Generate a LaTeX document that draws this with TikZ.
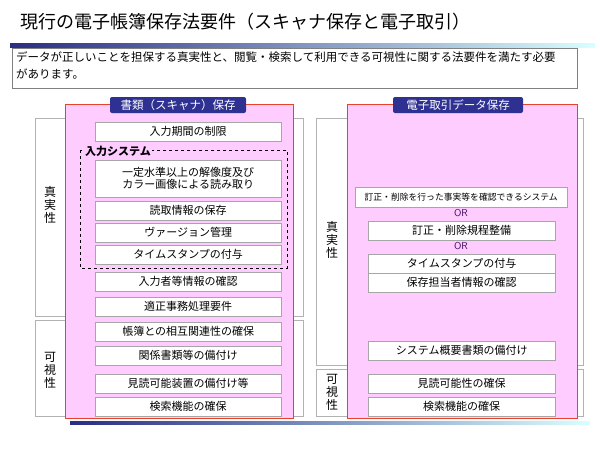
\documentclass[tikz,border=0pt]{standalone}
\usepackage{fontspec}
\setmainfont{Noto Sans CJK JP}
\usetikzlibrary{shadings}
\definecolor{tabblue}{HTML}{2E3192}
\definecolor{pinkfill}{HTML}{FFCCFF}
\definecolor{redb}{HTML}{E8412C}
\definecolor{orc}{HTML}{3A0A5A}
\begin{document}
\begin{tikzpicture}[x=1pt,y=-1pt,
  item/.style={draw=gray!70,fill=white,minimum height=19pt,inner sep=0pt,font=\fontsize{11}{12}\selectfont,anchor=north west},
  group/.style={draw=gray!60,fill=white},
  pinkbox/.style={draw=redb,fill=pinkfill,line width=1pt},
  tab/.style={fill=tabblue,rounded corners=2pt,text=white,font=\fontsize{11.5}{12}\selectfont,inner sep=0pt,minimum height=16pt},
  side/.style={font=\fontsize{12}{13}\selectfont,align=center},
  orlab/.style={text=orc,font=\sffamily\fontsize{10}{11}\selectfont,inner sep=0pt}]
\useasboundingbox (0,0) rectangle (600,450);
\fill[white] (0,0) rectangle (600,450);
\node[anchor=west,font=\fontsize{18}{20}\selectfont,inner sep=0pt] (title) at (20,22) {現行の電子帳簿保存法要件（スキャナ保存と電子取引）};
\shade[left color=tabblue!90!black,right color=cyan!15] (10,43.5) rectangle (595,47);
\node[draw=gray,line width=0.8pt,anchor=north west,minimum width=565pt,minimum height=40pt,inner sep=0pt] (desc) at (12,48) {};
\node[anchor=north west,align=left,font=\fontsize{11.5}{17}\selectfont,inner sep=0pt] (desct) at (16,51) {データが正しいことを担保する真実性と、閲覧・検索して利用できる可視性に関する法要件を満たす必要\\があります。};
% left
\draw[group] (35,118) rectangle (303,316);
\draw[group] (35,320) rectangle (303,416);
\draw[pinkbox] (65,104) rectangle (293,418);
\node[tab,minimum width=136pt] (tabL) at (178,105) {書類（スキャナ）保存};
\node[side] (lt) at (50,205) {真\\実\\性};
\node[side] (lk) at (50,370) {可\\視\\性};
\draw[dashed,thick] (80,150) rectangle (287,268);
\node[anchor=north west,font=\bfseries\fontsize{11}{12}\selectfont,inner sep=1pt,fill=pinkfill] (sys) at (84,145) {入力システム};
\foreach \n/\y/\h/\t in {a/122/19/入力期間の制限, c/201/19/読取情報の保存, d/223/19/ヴァージョン管理, e/245/19/タイムスタンプの付与, f/272/19/入力者等情報の確認, g/297/19/適正事務処理要件, h/322/19/帳簿との相互関連性の確保, i/346/19/関係書類等の備付け, j/374/19/見読可能装置の備付け等, k/397/19/検索機能の確保}
  \node[item,minimum width=186pt,text width=186pt,align=center] (L\n) at (95,\y) {\t};
\node[item,minimum width=186pt,minimum height=37pt,align=center,text width=186pt] (Lb) at (95,160) {一定水準以上の解像度及び\\カラー画像による読み取り};
% right
\draw[group] (316,118) rectangle (583,365);
\draw[group] (316,369) rectangle (583,416);
\draw[pinkbox] (347,104) rectangle (577,418);
\node[tab,minimum width=130pt] (tabR) at (458,105) {電子取引データ保存};
\node[side] (rt) at (332,240) {真\\実\\性};
\node[side] (rk) at (332,392) {可\\視\\性};
\node[item,minimum width=212pt,minimum height=20pt,font=\fontsize{8.8}{10}\selectfont] (Ra) at (355,187) {訂正・削除を行った事実等を確認できるシステム};
\node[orlab] (or1) at (461,213) {OR};
\node[orlab] (or2) at (461,246) {OR};
\foreach \n/\y/\t in {b/221/訂正・削除規程整備, c/254/タイムスタンプの付与, d/273/保存担当者情報の確認, e/341/システム概要書類の備付け, f/374/見読可能性の確保, g/397/検索機能の確保}
  \node[item,minimum width=187pt,text width=187pt,align=center] (R\n) at (368,\y) {\t};
\shade[left color=tabblue!90!black,right color=cyan!15] (70,421) rectangle (590,424);
\end{tikzpicture}
\end{document}
